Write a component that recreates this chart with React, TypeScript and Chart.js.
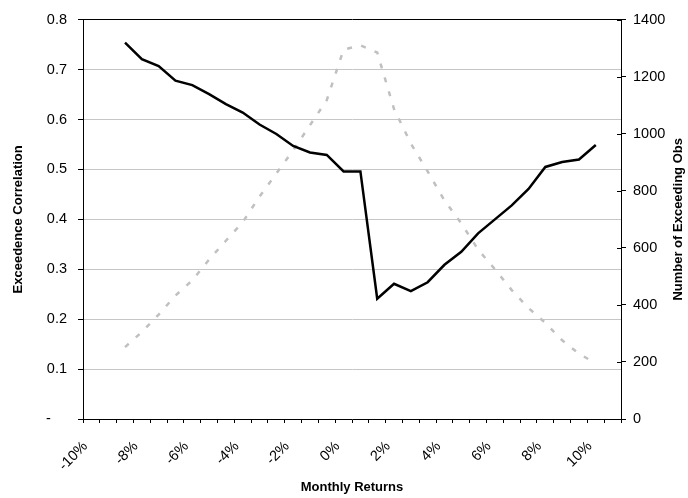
import { useEffect, useRef } from "react";
import { Chart, registerables } from "chart.js";

Chart.register(...registerables);

// Category axis (32 categories, label every third one)
const categories = [
  "-10%", "", "", "-8%", "", "", "-6%", "", "", "-4%", "", "",
  "-2%", "", "", "0%", "", "", "2%", "", "", "4%", "", "",
  "6%", "", "", "8%", "", "", "10%", "",
];

// Exceedence correlation (left axis)
const correlation = [
  null, null,
  0.754, 0.721, 0.707, 0.678, 0.669, 0.651, 0.631, 0.614, 0.590, 0.571,
  0.547, 0.534, 0.529, 0.496, 0.496, 0.241, 0.271, 0.256, 0.274, 0.309,
  0.335, 0.372, 0.400, 0.428, 0.461, 0.505, 0.515, 0.520, 0.549,
  null,
];

// Number of exceeding observations (right axis)
const exceedingObs = [
  null, null,
  252, 305, 366, 433, 486, 559, 625, 690, 780, 861,
  942, 1030, 1118, 1295, 1310, 1285, 1087, 966, 868, 766,
  686, 594, 525, 452, 389, 337, 276, 229, 195,
  null,
];

const leftTickLabels = ["-    ", "0.1", "0.2", "0.3", "0.4", "0.5", "0.6", "0.7", "0.8"];
const rightTickValues = [0, 200, 400, 600, 800, 1000, 1200, 1400];

const xTitle = "Monthly Returns";
const yLeftTitle = "Exceedence Correlation";
const yRightTitle = "Number of Exceeding Obs";

const FONT = '"Liberation Sans", Arial, sans-serif';
const TICK_SIZE = 14.5;

const rightTitlePlugin = {
  id: "rightTitle",
  afterDraw(chart: any) {
    const { ctx, chartArea } = chart;
    const s = chart.scales.y1;
    ctx.save();
    ctx.strokeStyle = "#000";
    ctx.lineWidth = 1;
    s.ticks.forEach((t: any) => {
      const y = Math.round(s.getPixelForValue(t.value)) + 0.5;
      ctx.beginPath();
      ctx.moveTo(chartArea.right - 4, y);
      ctx.lineTo(chartArea.right, y);
      ctx.stroke();
    });
    ctx.font = `bold 13px ${FONT}`;
    ctx.fillStyle = "#000";
    ctx.textAlign = "center";
    ctx.textBaseline = "middle";
    ctx.translate(s.right - 10, (chartArea.top + chartArea.bottom) / 2);
    ctx.rotate(-Math.PI / 2);
    ctx.fillText(yRightTitle, 0, 0);
    ctx.restore();
  },
};

export default function App() {
  const canvasRef = useRef<HTMLCanvasElement | null>(null);

  useEffect(() => {
    if (!canvasRef.current) return;
    const chart = new Chart(canvasRef.current, {
      type: "line",
      data: {
        labels: categories,
        datasets: [
          {
            label: "Exceedence Correlation",
            data: correlation,
            yAxisID: "y",
            borderColor: "#000000",
            borderWidth: 2.5,
            pointRadius: 0,
            tension: 0,
            fill: false,
          },
          {
            label: "Number of Exceeding Obs",
            data: exceedingObs,
            yAxisID: "y1",
            borderColor: "#c0c0c0",
            borderWidth: 2.5,
            borderDash: [5, 9.5],
            pointRadius: 0,
            tension: 0,
            fill: false,
          },
        ],
      },
      options: {
        animation: false,
        responsive: true,
        maintainAspectRatio: false,
        devicePixelRatio: 1,
        layout: { padding: { top: 16, left: 0, right: 0, bottom: 0 } },
        plugins: {
          legend: { display: false },
          tooltip: { enabled: false },
        },
        scales: {
          x: {
            type: "category",
            offset: true,
            afterFit(scale: any) {
              scale.height = 79;
            },
            grid: {
              display: true,
              drawOnChartArea: false,
              offset: true,
              tickLength: 4,
              color: "#000",
              tickColor: "#000",
            },
            border: { display: true, color: "#000", width: 1 },
            ticks: {
              autoSkip: false,
              maxRotation: 45,
              minRotation: 45,
              padding: 15,
              labelOffset: -6,
              color: "#000",
              font: { family: FONT, size: TICK_SIZE },
            },
            title: {
              display: true,
              text: xTitle,
              color: "#000",
              font: { family: FONT, size: 13, weight: "bold" },
              padding: { top: 0, bottom: 3 },
            },
          },
          y: {
            position: "left",
            min: 0,
            max: 0.8,
            afterFit(scale: any) {
              scale.width = 83;
            },
            ticks: {
              stepSize: 0.1,
              padding: 11,
              color: "#000",
              font: { family: FONT, size: TICK_SIZE },
              callback: (value: any) => leftTickLabels[Math.round(Number(value) * 10)],
            },
            grid: {
              color: (c: any) => (c.tick && c.tick.value >= 0.8 - 1e-9 ? "#000" : "#c6c6c6"),
              tickColor: "#000",
              tickLength: 5,
            },
            border: { display: true, color: "#000", width: 1 },
            title: {
              display: true,
              text: yLeftTitle,
              color: "#000",
              font: { family: FONT, size: 13, weight: "bold" },
              padding: { top: 11, bottom: 0 },
            },
          },
          y1: {
            position: "right",
            min: 0,
            max: 1400,
            afterFit(scale: any) {
              scale.width = 67;
            },
            afterBuildTicks(scale: any) {
              scale.ticks = rightTickValues.map((v) => ({ value: v }));
            },
            ticks: {
              padding: 7,
              color: "#000",
              font: { family: FONT, size: TICK_SIZE },
              callback: (value: any) => String(value),
            },
            grid: {
              drawOnChartArea: false,
              tickColor: "#000",
              tickLength: 5,
            },
            border: { display: true, color: "#000", width: 1 },
          },
        },
      },
      plugins: [rightTitlePlugin],
    });
    return () => chart.destroy();
  }, []);

  return (
    <div style={{ position: "fixed", left: 0, top: 0, width: 688, height: 498, background: "#fff" }}>
      <canvas ref={canvasRef} />
    </div>
  );
}
